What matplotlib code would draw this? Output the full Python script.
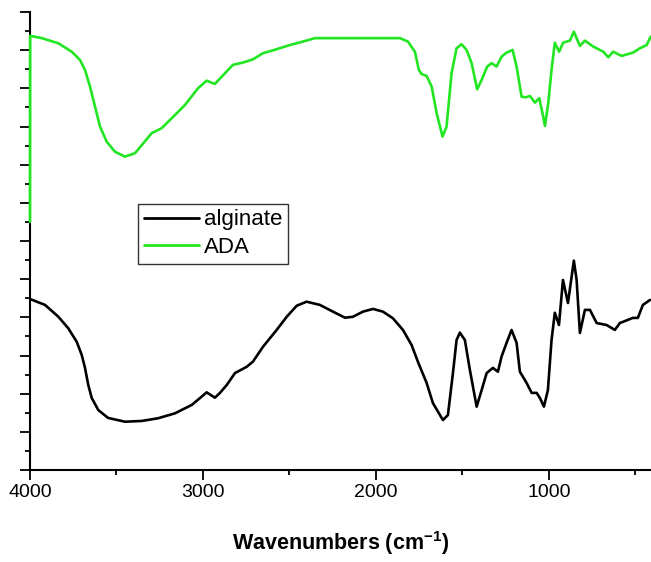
import matplotlib
matplotlib.use("Agg")
import matplotlib.pyplot as plt
from matplotlib.ticker import MultipleLocator, NullFormatter

plt.rcParams['font.family'] = ['Liberation Sans', 'DejaVu Sans']
plt.rcParams['mathtext.fontset'] = 'custom'
plt.rcParams['mathtext.rm'] = 'Liberation Sans:bold'
plt.rcParams['mathtext.bf'] = 'Liberation Sans:bold'
plt.rcParams['mathtext.sf'] = 'Liberation Sans:bold'
plt.rcParams['mathtext.default'] = 'bf'

# alginate spectrum (wavenumber, transmittance a.u.)
alg_wn = [4000, 3913, 3836, 3779, 3730, 3701, 3682, 3663, 3643, 3605, 3549, 3451, 3354, 3260,
          3162, 3065, 3008, 2979, 2931, 2902, 2863, 2815, 2747, 2711, 2653, 2574, 2516, 2458,
          2401, 2324, 2249, 2179, 2133, 2075, 2017, 1960, 1902, 1844, 1794, 1757, 1707, 1671,
          1613, 1584, 1555, 1534, 1515, 1486, 1457, 1418, 1389, 1360, 1324, 1295, 1274, 1245,
          1216, 1187, 1168, 1129, 1100, 1071, 1052, 1029, 1006, 985, 966, 942, 919, 890, 856,
          840, 821, 792, 763, 724, 667, 619, 590, 515, 486, 457, 416]
alg_t = [8.96, 8.65, 8.03, 7.43, 6.72, 6.03, 5.35, 4.45, 3.77, 3.14, 2.73, 2.53, 2.57, 2.71,
         2.97, 3.41, 3.84, 4.07, 3.79, 4.04, 4.45, 5.08, 5.41, 5.68, 6.46, 7.34, 8.03, 8.61,
         8.82, 8.65, 8.30, 7.98, 8.03, 8.30, 8.44, 8.30, 7.95, 7.34, 6.55, 5.66, 4.56, 3.51,
         2.62, 2.88, 5.08, 6.81, 7.20, 6.81, 5.24, 3.32, 4.19, 5.08, 5.35, 5.15, 5.94, 6.66,
         7.34, 6.66, 5.15, 4.56, 4.04, 4.04, 3.77, 3.32, 4.19, 6.81, 8.24, 7.60, 9.96, 8.75, 10.97,
         9.96, 7.18, 8.39, 8.39, 7.70, 7.60, 7.34, 7.70, 7.97, 7.97, 8.65, 8.91]

# ADA spectrum
ada_wn = [4000, 3999, 3932, 3836, 3759, 3711, 3682, 3653, 3624, 3595, 3557, 3509, 3451, 3393,
          3345, 3297, 3239, 3181, 3104, 3029, 2979, 2931, 2873, 2827, 2769, 2711, 2653, 2574,
          2497, 2422, 2353, 2227, 2035, 1861, 1815, 1775, 1752, 1736, 1707, 1678, 1649, 1615,
          1592, 1563, 1534, 1505, 1476, 1447, 1415, 1389, 1357, 1331, 1303, 1274, 1245, 1210,
          1187, 1158, 1133, 1110, 1081, 1056, 1037, 1023, 1004, 985, 966, 941, 918, 879, 856,
          821, 792, 744, 686, 657, 629, 580, 514, 474, 435, 412]
ada_t = [13.0, 22.75, 22.63, 22.36, 21.92, 21.49, 20.96, 20.09, 19.04, 17.99, 17.21, 16.68, 16.42, 16.60,
         17.12, 17.65, 17.91, 18.43, 19.13, 20.00, 20.40, 20.23, 20.79, 21.23, 21.35, 21.52, 21.84, 22.05,
         22.27, 22.45, 22.63, 22.63, 22.63, 22.63, 22.45, 21.92, 20.96, 20.75, 20.65, 20.09, 18.69, 17.47,
         17.99, 20.79, 22.10, 22.31, 22.01, 21.32, 19.95, 20.44, 21.14, 21.32, 21.14, 21.66, 21.87, 22.01,
         21.14, 19.56, 19.53, 19.60, 19.25, 19.48, 18.69, 18.03, 19.22, 20.96, 22.39, 21.92, 22.39, 22.50, 22.97,
         22.22, 22.50, 22.19, 21.92, 21.63, 21.92, 21.70, 21.87, 22.10, 22.27, 22.71]

labels = ["alginate", "ADA"]
x_ticks = [4000, 3000, 2000, 1000]
x_label = "Wavenumbers (cm$^{\\mathsf{-1}}$)"

fig = plt.figure(figsize=(6.51, 5.62), dpi=100)
ax = fig.add_axes([30/651, 1 - 470/562, 621/651, 458/562])

ax.plot(alg_wn, alg_t, color='black', lw=1.9, label=labels[0],
        solid_joinstyle='round', solid_capstyle='round')
ax.plot(ada_wn, ada_t, color='#22e622', lw=1.9, label=labels[1],
        solid_joinstyle='round', solid_capstyle='round', zorder=3, clip_on=False)

ax.set_xlim(4000, 410)
ax.set_ylim(0, 24)
ax.set_xticks(x_ticks)
ax.xaxis.set_minor_locator(MultipleLocator(500))
ax.yaxis.set_major_locator(MultipleLocator(2))
ax.yaxis.set_minor_locator(MultipleLocator(1))
ax.yaxis.set_major_formatter(NullFormatter())
ax.spines['top'].set_visible(False)
ax.spines['right'].set_visible(False)
for s in ['left', 'bottom']:
    ax.spines[s].set_linewidth(1.5)
ax.tick_params(which='major', direction='out', length=7, width=1.3, labelsize=14, pad=3)
ax.tick_params(which='minor', direction='out', length=3.8, width=1.3)

ax.set_xlabel(x_label, fontsize=15.5, fontweight='bold')
ax.xaxis.set_label_coords(0.5, -0.128)

leg = ax.legend(loc='upper left', bbox_to_anchor=(0.174, 0.581), borderaxespad=0,
                fontsize=16, frameon=True, fancybox=False, edgecolor='black',
                handlelength=2.5, handletextpad=0.2, labelspacing=0.3, borderpad=0.25)
leg.get_frame().set_linewidth(1.0)
for line in leg.get_lines():
    line.set_linewidth(2.0)

fig.savefig("out.png", dpi=100)
